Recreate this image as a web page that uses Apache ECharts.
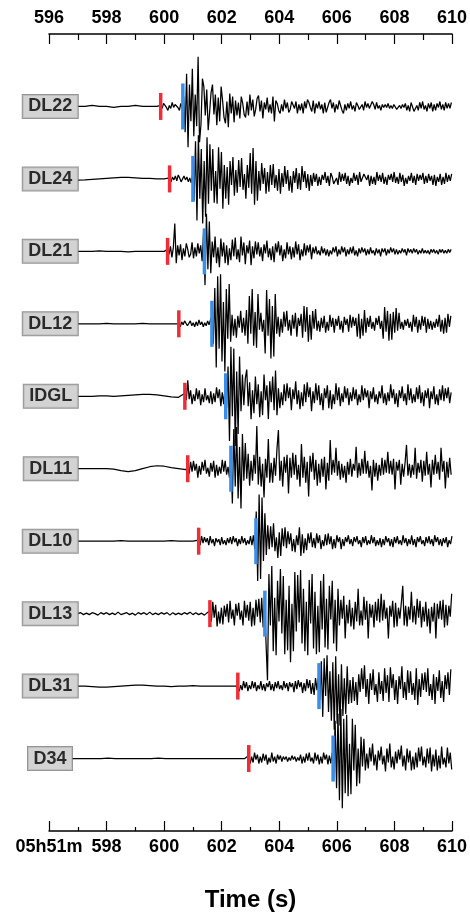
<!DOCTYPE html>
<html>
<head>
<meta charset="utf-8">
<title>Record section</title>
<script src="https://cdn.jsdelivr.net/npm/echarts/dist/echarts.min.js"></script>
<style>
  html, body { margin: 0; padding: 0; background: #fff; }
  #chart { width: 470px; height: 917px; }
</style>
</head>
<body>
<div id="chart"></div>
<script>
// Stations, top to bottom
const stations = ['DL22', 'DL24', 'DL21', 'DL12', 'IDGL', 'DL11', 'DL10', 'DL13', 'DL31', 'D34'];
// P (red) and S (blue) picks, seconds after 05h51m
const pPicks = [599.88, 600.19, 600.12, 600.51, 600.72, 600.82, 601.20, 601.59, 602.56, 602.94];
const sPicks = [600.65, 601.00, 601.40, 601.66, 602.14, 602.32, 603.19, 603.50, 605.38, 605.87];
// first sample time of each trace
const traceStart = [597.0, 597.0, 597.0, 597.0, 597.0, 597.0, 597.0, 597.0, 597.0, 596.8];
// time axis
const timeMin = 596, timeMax = 610, timeStep = 2;
const firstBottomLabel = '05h51m';
const axisTitle = 'Time (s)';

// sampling of the pre-event segment (start -> P pick) and of the record after the P pick
const preSteps = [0.25, 0.25, 0.25, 0.25, 0.25, 0.25, 0.25, 0.1, 0.25, 0.25];
const waveStep = 0.05;

// pre-event samples
const pre_DL22 = [0, 0, 1, 0, 0, -1, 0, 0, 1, 0, 0, 0];
const pre_DL24 = [-1.2, -1, -0.5, 0, 0.5, 1, 1.5, 1.5, 1, 0.5, 0.5, 0, 0];
const pre_DL21 = [0, 0, 0, 0.5, 0, 0, 0, -0.5, 0, 0, 0, 0, 0];
const pre_DL12 = [0, 0, 0, 0, 0.5, 0, 0, 0, 0, 0.5, 0, 0, 0, 0, 0];
const pre_IDGL = [0, 0, 0, 0.5, 0.5, 0, 0.5, 1, 1.5, 2, 2, 1.5, 0.5, -0.5, -1];
const pre_DL11 = [0, 0, 0, 0, 0, -0.5, -2, -3, -2, 0, 2, 3, 2.5, 1, 0, -1];
const pre_DL10 = [0, 0, 0, 0, 0, 0, 0.5, 0, 0, 0, 0, 0, 0, 0.5, 0, 0, 0];
const pre_DL13 = [
  0, 1, -1, 0.5, -1, 1, 0, -1.5, 1, -0.5, 1, -1, 0.5, -1, 1.5, -1, 0, 1, -1, 0.5,
  -1.5, 1, -0.5, 1, -1, 1.5, -1, 0.5, -1, 1, -0.5, 1, -1.5, 1, -1, 0.5, -1, 1, -0.5, 1.5,
  -1, 1, -1, 0.5, -1.5, 1
];
const pre_DL31 = [0, 0, -0.5, -1, -1, -0.5, 0, 0.5, 1, 1, 0.5, 0, 0, -0.5, 0, 0, 0.5, 0, 0, 0, 0, 0, 0];
const pre_D34 = [0, 0, 0, 0, 0, 0.5, 0, 0, 0, 0, 0, 0, 0.5, 0, 0, 0, 0, 0, 0, 0, 0, 0, 0, 0, 0];

// records from the P pick onward (up = positive)
const wave_DL22 = [
  1,-2,3,1,-1,-4,1,-2,4,-1, 2,3,-1,-4,3,-2,10,-26,33,-41,
  22,-15,38,-30,12,-20,50,-36,-18,28, 20,-9,17,-24,-6,14,22,-8,12,-19,
  9,-15,20,6,-11,-17,5,-21,13,-7, 10,-16,6,-9,4,-12,10,3,-8,-11,
  5,-9,12,-4,7,-10,-3,8,11,-5, 6,-12,4,-3,9,-6,2,-7,10,-15,
  6,3,-4,-7,2,-5,7,-2,4,-6, -3,5,7,-2,5,-7,2,-4,3,-7,
  5,-2,7,4,-1,-5,6,-7,3,-2, 5,-3,2,-7,4,-6,-1,4,7,-2,
  4,-6,2,-3,6,1,-4,-7,2,-4, 3,-2,5,-3,1,-5,4,1,-3,-5,
  2,-4,5,-1,3,-2,-4,5,2,-3, 4,-2,1,-4,2,-1,2,-1,3,-2,
  1,-2,2,1,-3,-1,1,-2,2,-1, 3,-4,1,-5,4,2,-5,-3,1,-4,
  4,-2,5,-3,1,-5,3,-2,4,-5, 2,-4,3,-1,5,-3,2,-4,4,-2,
  3,-2,4,-4,2
];
const wave_DL24 = [
  1,-3,2,-1,3,-2,4,1,-3,-2, 3,-1,2,-3,1,-4,5,-22,38,-42,
  44,-20,30,-45,18,-38,42,-25,35,-12, 30,-24,8,-25,32,-10,27,-30,14,-20,
  12,-26,18,-6,22,-17,9,-14,19,-8, 21,-11,5,-20,14,-9,26,-15,31,-26,
  18,-22,8,-12,16,-5,11,-15,7,-13, 14,-6,15,-9,4,-12,10,-15,6,-8,
  13,-5,9,-12,3,-14,8,-4,11,-10, 6,-11,13,-3,8,-9,5,-12,4,-7,
  6,-3,5,-7,2,-6,4,-1,7,-4, 3,-7,6,2,-5,-4,1,-6,7,-3,
  5,-2,6,-5,3,-7,1,-4,6,-2, 4,-6,7,-3,-2,5,6,-1,4,-7,
  3,-5,2,-6,7,-2,4,-3,6,-5, 2,-6,4,-1,5,-3,7,-4,2,-5,
  6,-3,4,-7,1,-5,3,-2,6,-4, 3,-6,5,-2,4,-1,6,-5,3,-4,
  5,-2,3,-6,4,-7,2,-3,5,-6, 2,-5,6,-3,4,-2,5,-6,3,-4
];
const wave_DL21 = [
  2,-3,5,-6,4,28,-12,6,-4,7, -9,3,-5,8,2,-6,-3,9,-7,4,
  -5,8,-2,6,-10,20,-34,38,-18,30, -22,10,-6,15,-12,4,-16,13,-5,9,
  -12,6,-14,3,-9,12,-5,14,-8,2, -11,15,-4,9,-13,6,-2,11,-14,5,
  -7,10,-3,9,-5,4,-10,7,-2,11, -6,3,-9,5,-11,8,-1,10,-4,6,
  -10,2,-7,9,-3,5,-8,4,-6,10, -3,7,-9,2,-5,8,-4,6,-1,7,
  -8,4,-2,5,-3,1,-4,5,-2,3, -4,2,-5,1,-3,4,-1,5,-5,2,
  -3,5,-1,4,-5,2,-3,4,-2,5, -4,1,-5,3,-2,4,-1,3,-4,2,
  -3,4,-2,1,-4,3,-2,2,-5,3, -1,3,-4,2,-2,4,-1,3,-3,2,
  -3,1,-2,3,-1,2,-4,3,-1,2, -2,3,-1,2,-3,1,-2,3,-2,1,
  -2,1,-3,2,-1,2,-2,1,-3,2, -1,2,-2,1,-2,2,-1,2,-1,1
];
const wave_DL12 = [
  1,-3,2,-1,3,2,-2,-1,3,-2, 1,-3,2,-2,4,-1,2,-3,1,-2,
  3,-1,4,8,-20,36,-44,48,-25,50, -38,22,-48,35,-15,40,-18,9,-12,5,
  -14,8,-4,13,-9,6,-12,14,-20,28, -10,35,-22,12,-24,30,-6,11,-8,4,
  -30,34,-12,25,-35,18,-33,30,-10,7, -13,5,-9,12,-3,13,-7,4,-12,9,
  -5,11,-13,6,-2,10,-14,18,-8,17, -18,9,-16,13,-5,15,-7,3,-8,6,
  -4,8,-9,2,-7,9,-3,6,-9,5, -2,8,-6,3,-9,7,-1,5,-8,9,
  -4,7,-2,6,-13,10,-15,5,-12,14, -9,6,-3,8,-5,2,-7,6,-1,8,
  -5,3,-15,17,-8,13,-17,10,-16,12, -9,16,-7,11,-5,2,-6,4,-2,5,
  -4,2,-8,9,-3,7,-9,4,-6,8, -2,7,-9,5,-5,3,-6,2,-4,5,
  -3,9,-8,4,-10,6,-9,10,-3,8, -7,9
];
const wave_IDGL = [
  3,-4,16,-3,6,-8,2,-5,8,-3, 6,-9,2,-6,8,-4,1,-7,5,-8,
  3,-6,9,-2,7,-10,4,-8,10,-12, 30,-45,50,-20,48,-50,25,-38,40,-15,
  22,-9,18,27,-10,14,-23,6,-17,20, -8,12,-21,5,-19,22,-4,11,-23,15,
  -6,20,-14,26,-19,8,-12,4,-9,12, -5,13,-2,9,-14,7,-3,15,-8,6,
  -13,4,-10,12,-6,14,-1,9,-15,5, -7,13,-4,11,-9,3,-14,8,-2,11,
  -12,6,-13,2,-8,13,-4,9,-10,3, -6,10,-2,8,-9,4,-5,9,-3,7,
  -9,2,-6,11,-4,8,-1,6,-12,5, -3,9,-6,2,-8,5,-2,11,-7,3,
  -9,4,-5,12,-2,7,-8,3,-11,6, -2,10,-5,3,-9,12,-4,8,-7,2,
  -6,9,-3,11,-7,4,-10,6,-2,8, -12,5,-3,10,-8,2,-9,7,-4,11,
  -5,8,-2,9,-7,4,-9,6
];
const wave_DL11 = [
  2,-5,7,-3,8,-2,5,-9,3,-6, 7,-2,9,-5,1,-8,6,-3,8,-9,
  4,-7,2,-5,9,-3,8,-6,2,-9, 15,-35,40,-18,42,-30,22,-40,35,-12,
  26,-10,15,-17,8,-12,14,-5,43,-16, 12,-18,5,-29,10,-9,30,-14,6,-14,
  11,-7,20,39,-12,8,-18,12,-4,14, -25,11,-9,16,-6,14,-11,4,-18,25,
  -9,12,-14,7,-28,13,-3,16,-11,9, -17,5,-14,10,-8,12,-21,6,-12,29,
  -6,9,-4,21,-7,8,-11,5,-9,3, -14,7,-6,10,-8,5,-2,22,-9,6,
  -7,10,-5,18,-5,8,-9,3,-22,9, -8,6,-12,4,-7,11,-6,9,-4,17,
  -5,8,-6,10,-21,7,-2,9,-16,5, -8,6,24,-7,5,-9,4,-6,21,-10,
  6,-4,9,-13,8,-7,17,-6,5,-19, 9,-6,14,-5,7,-11,21,-3,8,-20,
  7,-9,11,-6,18,-8
];
const wave_DL10 = [
  1,-4,5,-2,4,-1,3,-4,5,-2, 2,-5,3,-1,2,-4,4,-3,1,-4,
  3,-2,4,-3,5,-1,3,-5,2,-3, 5,-2,3,-4,1,-3,5,-4,6,-8,
  30,-40,47,-38,44,-20,28,-14,16,-8, 15,-6,18,-10,4,-17,9,-15,13,-5,
  14,-7,10,-3,8,-10,2,-11,6,-4, 14,-15,7,-12,3,-9,8,-2,9,-6,
  3,-7,8,-2,6,-8,1,-5,7,-4, 8,-3,5,-8,2,-7,6,-1,4,-8,
  2,-5,4,-1,6,-3,2,-5,4,-1, 5,-3,1,-6,4,-2,5,-4,1,-3,
  6,-2,4,-5,1,-4,3,-6,2,-4, 5,-1,3,-5,2,-6,4,-2,5,-3,
  1,-4,6,-2,3,-5,2,-3,6,-4, 2,-6,4,-1,5,-3,1,-5,4,-2,
  5,-3,2,-5,6,-1,4,-4,2,-5, 3,-2,4,-6,1,-3,5,-4
];
const wave_DL13 = [
  3,-8,12,-4,9,-13,2,-10,6,-11, 8,-3,10,-9,13,-5,4,-12,10,-2,
  11,-6,3,-12,13,-4,9,-7,12,-13, 6,-12,14,-3,15,-9,16,-14,20,-30,
  -67,40,-12,48,-38,16,-42,33,-8,45, -20,38,-41,14,-37,28,-49,10,-38,42,
  -18,39,-9,44,-30,25,-38,12,-42,34, -10,40,-35,22,-41,8,-39,33,-16,40,
  -34,15,-36,28,-6,33,-30,14,-38,25, -12,14,-5,18,-25,9,-10,14,-13,6,
  -16,12,-8,25,-12,3,-12,17,-6,13, -25,10,-4,9,-14,12,-7,15,-9,20,
  -7,14,-5,6,-25,8,-3,13,-14,11, -13,6,-5,11,28,-12,8,-13,7,-6,
  22,-9,8,-11,15,-4,13,-14,7,-8, 12,-13,5,-20,7,-8,11,-25,10,-5,
  13,-6,14,-14,9,-12,8,-3,20,-12
];
const wave_DL31 = [
  2,-5,1,-4,5,-2,4,-5,1,-3, 5,-2,4,-5,1,-3,5,-4,2,-5,
  3,-1,5,-4,2,-5,4,-2,5,-3, 1,-4,5,-2,3,-5,4,-1,3,-6,
  5,-3,6,-1,4,-7,3,-5,7,-2, 6,-8,3,-9,8,-4,9,-14,25,-31,
  28,-10,31,-26,15,-35,24,-44,30,-38, 12,-40,22,-30,8,-28,20,-18,6,-17,
  9,-15,4,-19,12,-6,18,-3,21,-11, 7,-18,13,-4,17,-9,2,-16,14,-8,
  5,-15,18,-7,11,-16,19,-2,12,-14, 6,-18,10,-3,20,-12,4,-14,16,-7,
  15,-9,3,-14,18,-19,7,-11,13,-4, 14,-6,18,-10,2,-14,12,-18,9,-5,
  16,-12,5,-16,11,-3,14,-9,17,-6
];
const wave_D34 = [
  3,-5,2,-4,6,-1,4,-5,2,-4, 5,-2,4,-6,1,-4,6,-3,2,-5,
  4,-1,3,-3,2,-1,2,-3,1,-2, 3,-1,2,-3,1,-2,4,-5,2,-4,
  5,-2,6,-3,1,-5,6,-2,4,-6, 2,-5,6,-1,4,-6,3,-5,6,-20,
  38,-30,45,-42,50,-50,40,-35,44,-38, 15,-36,40,-12,34,-28,10,-25,22,-8,
  20,-12,5,-10,11,-3,15,-7,4,-12, 8,-2,12,-6,3,-13,10,-4,15,-9,
  2,-11,7,-5,9,-1,13,-8,3,-12, 10,-4,8,-12,2,-11,6,-9,11,-3,
  12,-7,2,-9,10,-5,11,-13,4,-8, 9,-12,3,-10,12,-6,1,-9,11,-5,
  6,-11,12,-4
];

const preSegments = [pre_DL22, pre_DL24, pre_DL21, pre_DL12, pre_IDGL, pre_DL11, pre_DL10, pre_DL13, pre_DL31, pre_D34];
const records = [wave_DL22, wave_DL24, wave_DL21, wave_DL12, wave_IDGL, wave_DL11, wave_DL10, wave_DL13, wave_DL31, wave_D34];

// one trace spacing on the y axis corresponds to this many amplitude units
const traceSpacing = 73;
const fontFamily = "'Liberation Sans', Arial, Helvetica, sans-serif";

function traceData(k) {
  const base = k + 1;
  const out = [];
  preSegments[k].forEach((v, i) => {
    const t = traceStart[k] + i * preSteps[k];
    if (t < pPicks[k]) out.push([t, base - v / traceSpacing]);
  });
  records[k].forEach((v, j) => {
    const t = pPicks[k] + j * waveStep;
    if (t <= timeMax + 1e-6) out.push([t, base - v / traceSpacing]);
  });
  return out;
}

function pickRenderer(color, halfHeight) {
  return function (params, api) {
    const p = api.coord([api.value(0), api.value(1)]);
    return {
      type: 'rect',
      shape: { x: p[0] - 1.75, y: p[1] - halfHeight, width: 3.5, height: halfHeight * 2 },
      style: { fill: color }
    };
  };
}

const series = [];
stations.forEach((name, k) => {
  series.push({
    name: name,
    type: 'line',
    data: traceData(k),
    showSymbol: false,
    symbol: 'none',
    lineStyle: { color: '#000', width: 1.25 },
    silent: true,
    z: 2
  });
});
series.push({
  type: 'custom',
  renderItem: pickRenderer('#ee2e36', 13.5),
  data: pPicks.map((t, k) => [t, k + 1]),
  silent: true,
  z: 5
});
series.push({
  type: 'custom',
  renderItem: pickRenderer('#3b8ee8', 23),
  data: sPicks.map((t, k) => [t, k + 1]),
  silent: true,
  z: 6
});
series.push({
  type: 'scatter',
  symbolSize: 0,
  data: stations.map((name, k) => [traceStart[k], k + 1, name]),
  silent: true,
  z: 8,
  label: {
    show: true,
    position: 'left',
    distance: 0,
    formatter: p => p.data[2],
    backgroundColor: '#c8c8c8',
    borderColor: '#7a7a7a',
    borderWidth: 1,
    padding: [3, 5.5, 3, 5.5],
    color: '#000',
    fontFamily: fontFamily,
    fontWeight: 'bold',
    fontSize: 18,
    lineHeight: 17
  }
});

function timeAxis(position, minorLen, labelFn) {
  return {
    type: 'value',
    position: position,
    min: timeMin,
    max: timeMax,
    interval: timeStep,
    axisLine: { show: true, onZero: false, lineStyle: { color: '#000', width: 1.5 } },
    axisTick: { show: true, inside: true, length: 10, lineStyle: { color: '#000', width: 1.2 } },
    minorTick: { show: true, splitNumber: 2, length: minorLen, lineStyle: { color: '#000', width: 1.2 } },
    splitLine: { show: false },
    axisLabel: {
      show: true,
      margin: 7,
      color: '#000',
      fontFamily: fontFamily,
      fontWeight: 'bold',
      fontSize: 18,
      formatter: labelFn
    }
  };
}

const bottomAxis = timeAxis('bottom', 4, v => (v === timeMin ? firstBottomLabel : String(v)));
bottomAxis.name = axisTitle;
bottomAxis.nameLocation = 'middle';
bottomAxis.nameGap = 57;
bottomAxis.nameTextStyle = { color: '#000', fontFamily: fontFamily, fontWeight: 'bold', fontSize: 24 };

const option = {
  animation: false,
  backgroundColor: '#fff',
  grid: { left: 49, right: 18, top: 34, bottom: 80, containLabel: false },
  xAxis: [timeAxis('top', 6, v => String(v)), bottomAxis],
  yAxis: { type: 'value', min: 0, max: 11, inverse: true, show: false },
  series: series
};

const chart = echarts.init(document.getElementById('chart'), null, { renderer: 'canvas' });
chart.setOption(option);
</script>
</body>
</html>
